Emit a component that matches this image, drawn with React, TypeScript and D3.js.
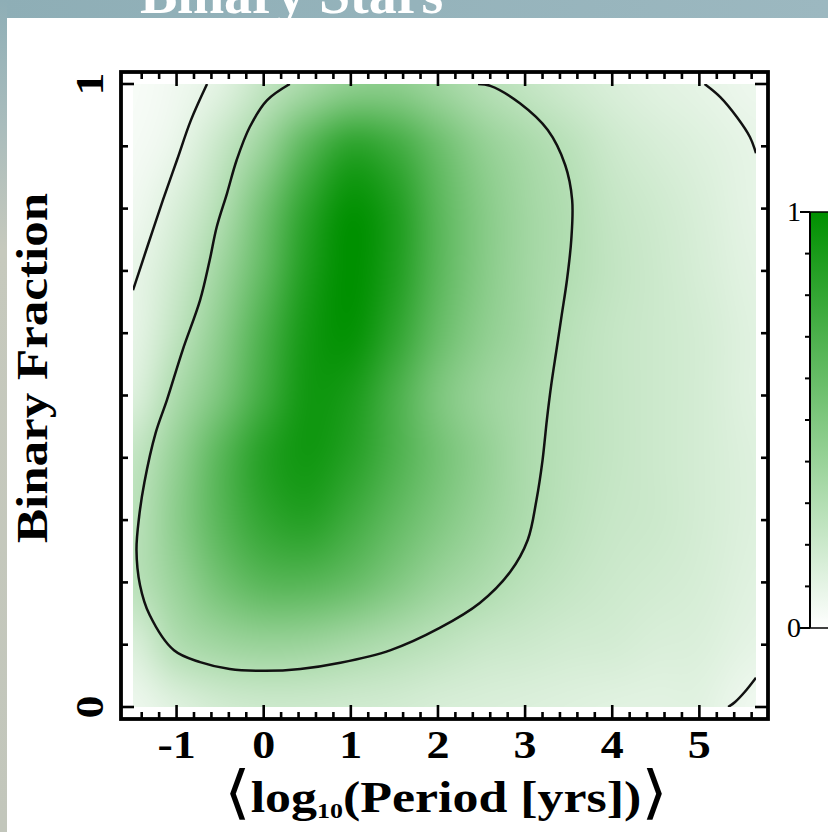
import React, { useMemo } from 'react';
import * as d3 from 'd3';

const W = 828;
const H = 832;

// grid of density values (rows: binary fraction, cols: log10 period)
const xNodes = [-1.5, -1, -0.5, 0, 0.5, 1, 1.5, 2, 2.5, 3, 3.5, 4, 4.5, 5, 5.65];
const yNodes = [0, 0.1, 0.2, 0.3, 0.4, 0.5, 0.6, 0.7, 0.8, 0.9, 1.0];
const row00 = [0.07, 0.13, 0.18, 0.2, 0.2, 0.19, 0.18, 0.16, 0.15, 0.14, 0.13, 0.12, 0.115, 0.115, 0.06];
const row01 = [0.15, 0.3, 0.37, 0.4, 0.39, 0.35, 0.305, 0.26, 0.22, 0.2, 0.18, 0.17, 0.15, 0.14, 0.1];
const row02 = [0.27, 0.4, 0.55, 0.65, 0.66, 0.6, 0.5, 0.4, 0.33, 0.27, 0.23, 0.2, 0.18, 0.16, 0.12];
const row03 = [0.27, 0.45, 0.65, 0.8, 0.85, 0.75, 0.62, 0.5, 0.4, 0.32, 0.26, 0.22, 0.2, 0.17, 0.13];
const row04 = [0.24, 0.42, 0.65, 0.85, 0.93, 0.85, 0.7, 0.55, 0.43, 0.33, 0.27, 0.23, 0.2, 0.17, 0.13];
const row05 = [0.14, 0.33, 0.52, 0.75, 0.93, 0.9, 0.72, 0.52, 0.4, 0.33, 0.27, 0.23, 0.2, 0.17, 0.12];
const row06 = [0.1, 0.25, 0.45, 0.7, 0.92, 0.98, 0.82, 0.6, 0.45, 0.36, 0.28, 0.23, 0.2, 0.17, 0.12];
const row07 = [0.09, 0.2, 0.38, 0.62, 0.88, 1.0, 0.88, 0.65, 0.48, 0.37, 0.3, 0.24, 0.2, 0.16, 0.11];
const row08 = [0.06, 0.15, 0.3, 0.55, 0.82, 0.98, 0.88, 0.65, 0.48, 0.37, 0.3, 0.23, 0.19, 0.15, 0.1];
const row09 = [0.04, 0.09, 0.22, 0.4, 0.65, 0.82, 0.75, 0.58, 0.43, 0.34, 0.27, 0.2, 0.16, 0.13, 0.095];
const row10 = [0.03, 0.06, 0.12, 0.24, 0.35, 0.44, 0.45, 0.38, 0.3, 0.24, 0.19, 0.15, 0.12, 0.1, 0.07];
const densityRows = [row00, row01, row02, row03, row04, row05, row06, row07, row08, row09, row10];

// contour lines (data coordinates)
const innerX = [0.3, 0.04, -0.16, -0.31, -0.42, -0.54, -0.62, -0.73, -0.93, -1.11, -1.24, -1.37, -1.43, -1.46, -1.42, -1.31, -1.03, -0.73, -0.39, 0.02, 0.42, 0.88, 1.45, 2.02, 2.48, 2.83, 3.03, 3.13, 3.2, 3.25, 3.3, 3.36, 3.42, 3.48, 3.53, 3.54, 3.46, 3.26, 2.94, 2.6, 2.46];
const innerY = [1.0, 0.974, 0.931, 0.878, 0.825, 0.77, 0.717, 0.653, 0.573, 0.493, 0.44, 0.36, 0.305, 0.252, 0.196, 0.148, 0.091, 0.072, 0.061, 0.058, 0.061, 0.071, 0.091, 0.127, 0.167, 0.217, 0.268, 0.332, 0.396, 0.461, 0.517, 0.573, 0.629, 0.685, 0.75, 0.814, 0.87, 0.926, 0.969, 0.997, 1.0];
const outerULX = [-0.65, -0.835, -0.995, -1.156, -1.328, -1.5];
const outerULY = [1.0, 0.942, 0.878, 0.814, 0.742, 0.669];
const outerURX = [5.06, 5.24, 5.43, 5.58, 5.65];
const outerURY = [1.0, 0.979, 0.947, 0.915, 0.889];
const outerBRX = [5.65, 5.52, 5.41, 5.33];
const outerBRY = [0.047, 0.024, 0.008, 0.0];

const xTickMajor = [-1, 0, 1, 2, 3, 4, 5];
const yTickMajor = [0, 1];
const cbTickLabels = [0, 1];

const GREEN = 'rgb(0,144,0)';
const LABEL_FONT = "'Liberation Serif', 'Times New Roman', serif";

function cubic(p0: number, p1: number, p2: number, p3: number, t: number) {
  return p1 + 0.5 * t * (p2 - p0 + t * (2 * p0 - 5 * p1 + 4 * p2 - p3 + t * (3 * (p1 - p2) + p3 - p0)));
}

export default function App() {
  const x0 = 133, x1 = 756, yTop = 84, yBot = 707;
  const x = d3.scaleLinear().domain([-1.5, 5.65]).range([x0, x1]);
  const y = d3.scaleLinear().domain([0, 1]).range([yBot, yTop]);
  const pad = 12;
  const fl = x0 - pad, fr = x1 + pad, ft = yTop - pad, fb = yBot + pad;

  const color = d3.scaleLinear<string>().domain([0, 1]).range(['#ffffff', GREEN]).interpolate(d3.interpolateRgb).clamp(true);

  const href = useMemo(() => {
    const w = Math.round(x1 - x0);
    const h = Math.round(yBot - yTop);
    const canvas = document.createElement('canvas');
    canvas.width = w;
    canvas.height = h;
    const ctx = canvas.getContext('2d');
    if (!ctx) return '';
    const img = ctx.createImageData(w, h);
    const ix = d3.scaleLinear().domain(xNodes).range(xNodes.map((_, i) => i)).clamp(true);
    const iy = d3.scaleLinear().domain(yNodes).range(yNodes.map((_, i) => i)).clamp(true);
    const nx = xNodes.length, ny = yNodes.length;
    const at = (i: number, j: number) => {
      const ii = Math.max(0, Math.min(nx - 1, i));
      const jj = Math.max(0, Math.min(ny - 1, j));
      return densityRows[jj][ii];
    };
    const lut: number[][] = [];
    for (let k = 0; k <= 255; k++) {
      const c = d3.rgb(color(k / 255));
      lut.push([c.r, c.g, c.b]);
    }
    for (let py = 0; py < h; py++) {
      const fy = iy(y.invert(yTop + py + 0.5));
      const j = Math.floor(fy);
      const ty = fy - j;
      for (let px = 0; px < w; px++) {
        const fx = ix(x.invert(x0 + px + 0.5));
        const i = Math.floor(fx);
        const tx = fx - i;
        const c0 = cubic(at(i - 1, j - 1), at(i, j - 1), at(i + 1, j - 1), at(i + 2, j - 1), tx);
        const c1 = cubic(at(i - 1, j), at(i, j), at(i + 1, j), at(i + 2, j), tx);
        const c2 = cubic(at(i - 1, j + 1), at(i, j + 1), at(i + 1, j + 1), at(i + 2, j + 1), tx);
        const c3 = cubic(at(i - 1, j + 2), at(i, j + 2), at(i + 1, j + 2), at(i + 2, j + 2), tx);
        let v = cubic(c0, c1, c2, c3, ty);
        v = Math.max(0, Math.min(1, v));
        const col = lut[Math.round(v * 255)];
        const o = (py * w + px) * 4;
        img.data[o] = col[0];
        img.data[o + 1] = col[1];
        img.data[o + 2] = col[2];
        img.data[o + 3] = 255;
      }
    }
    ctx.putImageData(img, 0, 0);
    return canvas.toDataURL();
  }, []);

  const mk = (xs: number[], ys: number[]) =>
    d3.line<[number, number]>().x(d => x(d[0])).y(d => y(d[1])).curve(d3.curveCatmullRom.alpha(0.5))(xs.map((v, i) => [v, ys[i]] as [number, number])) || '';

  const minorX = d3.range(-14, 57, 2).map(v => v / 10).filter(v => !xTickMajor.includes(v));
  const yTicksAll = d3.range(0, 11).map(v => v / 10);

  // colorbar
  const cbX = 810, cbW = 40;
  const cb = d3.scaleLinear().domain([0, 1]).range([628, 212]);

  return (
    <svg width={W} height={H} viewBox={`0 0 ${W} ${H}`} style={{ position: 'absolute', left: 0, top: 0, display: 'block' }}>
      <defs>
        <linearGradient id="slideTop" x1="0" y1="0" x2="1" y2="0">
          <stop offset="0" stopColor="#8eaeb6" />
          <stop offset="1" stopColor="#9cb8c0" />
        </linearGradient>
        <linearGradient id="slideLeft" x1="0" y1="0" x2="0" y2="1">
          <stop offset="0" stopColor="#8eaeb6" />
          <stop offset="0.15" stopColor="#a9bcbc" />
          <stop offset="0.3" stopColor="#c6c9bd" />
          <stop offset="1" stopColor="#c2c6bb" />
        </linearGradient>
        <linearGradient id="cbGrad" x1="0" y1="1" x2="0" y2="0">
          <stop offset="0" stopColor="#ffffff" />
          <stop offset="1" stopColor={GREEN} />
        </linearGradient>
        <clipPath id="densClip">
          <rect x={x0} y={yTop} width={x1 - x0} height={yBot - yTop} />
        </clipPath>
        <clipPath id="bandClip">
          <rect x={0} y={0} width={W} height={18} />
        </clipPath>
      </defs>

      {/* slide background */}
      <rect x={0} y={0} width={W} height={H} fill="#ffffff" />
      <rect x={0} y={0} width={W} height={18} fill="url(#slideTop)" />
      <rect x={0} y={0} width={7} height={H} fill="url(#slideLeft)" />
      <g clipPath="url(#bandClip)">
        <text x={140} y={13} fill="#ffffff" fontFamily={LABEL_FONT} fontSize={56} fontWeight="bold">Binary Stars</text>
      </g>

      {/* density */}
      <image href={href} x={x0} y={yTop} width={x1 - x0} height={yBot - yTop} preserveAspectRatio="none" />

      {/* contours */}
      <g clipPath="url(#densClip)" fill="none" stroke="#111" strokeWidth={2.5}>
        <path d={mk(innerX, innerY)} />
        <path d={mk(outerULX, outerULY)} />
        <path d={mk(outerURX, outerURY)} />
        <path d={mk(outerBRX, outerBRY)} />
      </g>

      {/* frame */}
      <rect x={fl} y={ft} width={fr - fl} height={fb - ft} fill="none" stroke="#000" strokeWidth={3.8} />
      <g stroke="#000" strokeWidth={2.6}>
        {xTickMajor.map(v => (
          <g key={'xm' + v}>
            <line x1={x(v)} x2={x(v)} y1={fb} y2={fb - 14} />
            <line x1={x(v)} x2={x(v)} y1={ft} y2={ft + 14} />
          </g>
        ))}
        {minorX.map(v => (
          <g key={'xn' + v}>
            <line x1={x(v)} x2={x(v)} y1={fb} y2={fb - 7} />
            <line x1={x(v)} x2={x(v)} y1={ft} y2={ft + 7} />
          </g>
        ))}
        {yTicksAll.map(v => {
          const len = yTickMajor.includes(v) ? 13 : 7;
          return (
            <g key={'y' + v}>
              <line x1={fl} x2={fl + len} y1={y(v)} y2={y(v)} />
              <line x1={fr} x2={fr - len} y1={y(v)} y2={y(v)} />
            </g>
          );
        })}
      </g>

      {/* tick labels */}
      <g fontFamily={LABEL_FONT} fontWeight="bold" fontSize={40} fill="#000">
        {xTickMajor.map(v => (
          <text key={'xl' + v} transform={`translate(${x(v)},758) scale(1.15,1)`} textAnchor="middle">
            {v < 0 ? '-' + Math.abs(v) : String(v)}
          </text>
        ))}
        {yTickMajor.map(v => (
          <text key={'yl' + v} transform={`translate(103,${y(v)}) rotate(-90) scale(1.15,1)`} textAnchor="middle">
            {String(v)}
          </text>
        ))}
      </g>

      {/* axis titles */}
      <g fontFamily={LABEL_FONT} fontWeight="bold" fill="#000">
        <text transform={`translate(47,368) rotate(-90) scale(1.16,1)`} textAnchor="middle" fontSize={44}>Binary Fraction</text>
        <text transform={`translate(446,812) scale(1.18,1)`} textAnchor="middle" fontSize={44}>
          <tspan fontFamily="'DejaVu Sans', sans-serif" fontWeight="normal" fontSize={58}>⟨</tspan>
          <tspan>log</tspan>
          <tspan fontSize={22} dy={6}>10</tspan>
          <tspan dy={-6}>(Period [yrs])</tspan>
          <tspan fontFamily="'DejaVu Sans', sans-serif" fontWeight="normal" fontSize={58}>⟩</tspan>
        </text>
      </g>

      {/* colorbar */}
      <rect x={cbX} y={cb(1)} width={cbW} height={cb(0) - cb(1)} fill="url(#cbGrad)" />
      <g stroke="#000">
        <line x1={cbX} x2={cbX} y1={cb(1)} y2={cb(0)} strokeWidth={2} />
        <line x1={cbX} x2={cbX + cbW} y1={cb(1)} y2={cb(1)} strokeWidth={1.5} />
        <line x1={cbX} x2={cbX + cbW} y1={cb(0)} y2={cb(0)} strokeWidth={1.5} />
        {yTicksAll.map(v => (
          <line key={'cb' + v} x1={cbTickLabels.includes(v) ? cbX - 10 : cbX - 5} x2={cbX} y1={cb(v)} y2={cb(v)} strokeWidth={2} />
        ))}
      </g>
      <g fontFamily={LABEL_FONT} fontSize={28} fill="#000">
        {cbTickLabels.map(v => (
          <text key={'cbl' + v} x={801} y={cb(v) + 9} textAnchor="end">{String(v)}</text>
        ))}
      </g>
    </svg>
  );
}
